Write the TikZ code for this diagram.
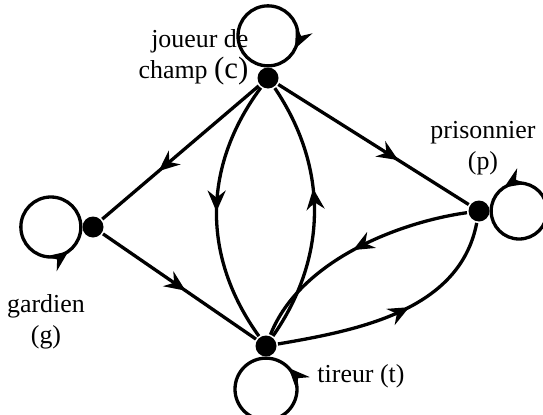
\documentclass[tikz,border=0pt]{standalone}
\usepackage{fontspec}
\setmainfont{Liberation Serif}
\usetikzlibrary{arrows.meta,decorations.markings}

\begin{document}
\begin{tikzpicture}[x=1bp,y=1bp,line width=3.3bp,
    state/.style={circle,fill=black,inner sep=0pt,minimum size=21bp},
    lbl/.style={font=\fontsize{26}{31}\selectfont,align=center,inner sep=0pt},
    midarrow/.style={postaction={decorate},decoration={markings,
      mark=at position #1 with {\arrow{Stealth[length=21bp,width=18bp,inset=7bp]}}}}]
  \useasboundingbox (0,0) rectangle (543,414);
  % the four players
  \node[state] (c) at (268,336) {};
  \node[state] (g) at (93,187) {};
  \node[state] (t) at (266,68) {};
  \node[state] (p) at (479,203) {};
  % labels
  \node[lbl,anchor=east,align=right] (lc) at (250,357) {joueur de\\champ {\fontsize{31}{31}\selectfont(c)}};
  \node[lbl] (lg) at (46,92) {gardien\\(g)};
  \node[lbl] (lt) at (361,38) {tireur (t)};
  \node[lbl] (lp) at (483,266) {prisonnier\\(p)};
  % straight passes
  \draw[midarrow=0.64] (c) -- (g);
  \draw[midarrow=0.54] (g) -- (t);
  \draw[midarrow=0.63] (c) -- (p);
  % curved passes
  \draw[midarrow=0.5] (c) .. controls (202,247) and (202,157) .. (t);
  \draw[midarrow=0.59] (t) .. controls (328,157) and (328,247) .. (c);
  \draw[midarrow=0.5] (p) .. controls (400,192) and (300,154) .. (t);
  \draw[midarrow=0.55] (t) .. controls (360,84) and (460,104) .. (p);
  % loops
  \draw[midarrow=0.82] (c.north) arc[start angle=-90,delta angle=-360,radius=30];
  \draw[midarrow=0.85] (g.west) arc[start angle=0,delta angle=360,radius=30];
  \draw[midarrow=0.87] (t.south) arc[start angle=90,delta angle=360,radius=31];
  \draw[midarrow=0.84] (p.east) arc[start angle=180,delta angle=360,radius=28];
\end{tikzpicture}
\end{document}
